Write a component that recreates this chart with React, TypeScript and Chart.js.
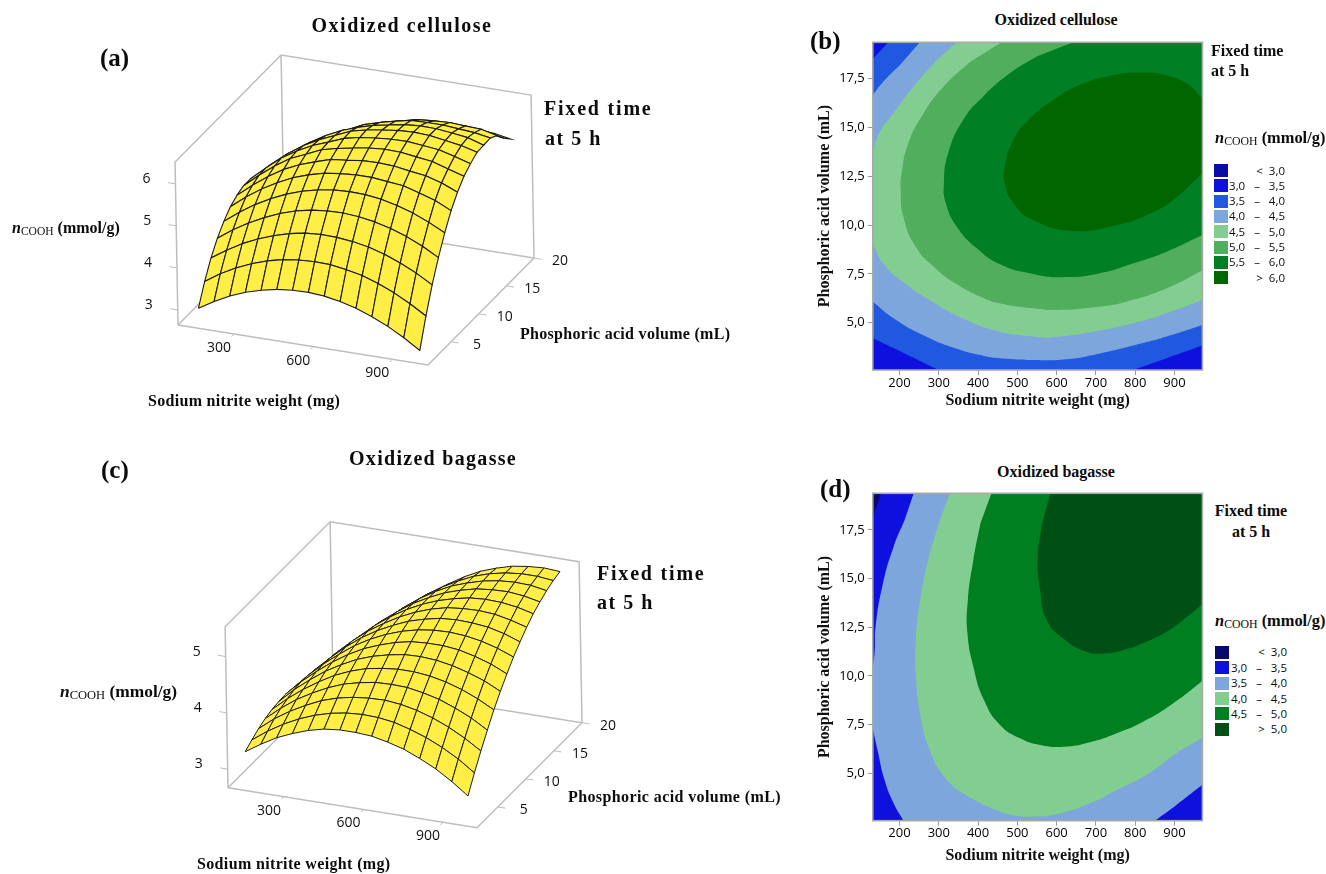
import { useEffect, useRef } from "react";
import { Chart, registerables } from "chart.js";

Chart.register(...registerables);

// ---------- surface grids ----------
const xGrid = [130, 190, 250, 310, 370, 430, 490, 550, 610, 670, 730, 790, 850, 910, 970];
const yGrid = [2.5, 3.7, 4.9, 6.1, 7.3, 8.5, 9.7, 10.9, 12.1, 13.3, 14.5, 15.7, 16.9, 18.1, 19.3];

const celluloseZ = [
  [2.86, 3.08, 3.27, 3.42, 3.53, 3.61, 3.65, 3.66, 3.63, 3.56, 3.46, 3.32, 3.15, 2.94, 2.7],
  [3.34, 3.58, 3.78, 3.94, 4.07, 4.16, 4.21, 4.23, 4.22, 4.16, 4.08, 3.95, 3.79, 3.59, 3.36],
  [3.74, 3.98, 4.2, 4.37, 4.51, 4.62, 4.69, 4.72, 4.71, 4.67, 4.6, 4.49, 4.34, 4.16, 3.94],
  [4.05, 4.31, 4.53, 4.72, 4.88, 5.0, 5.08, 5.12, 5.13, 5.1, 5.04, 4.94, 4.81, 4.64, 4.43],
  [4.29, 4.57, 4.81, 5.01, 5.18, 5.31, 5.4, 5.46, 5.48, 5.47, 5.42, 5.33, 5.21, 5.05, 4.86],
  [4.48, 4.77, 5.02, 5.23, 5.41, 5.54, 5.64, 5.69, 5.72, 5.72, 5.68, 5.64, 5.53, 5.41, 5.23],
  [4.59, 4.89, 5.16, 5.39, 5.56, 5.69, 5.81, 5.85, 5.9, 5.91, 5.89, 5.83, 5.78, 5.67, 5.51],
  [4.66, 4.97, 5.25, 5.49, 5.65, 5.82, 5.91, 5.98, 6.04, 6.07, 6.06, 6.01, 5.96, 5.84, 5.73],
  [4.66, 4.98, 5.28, 5.51, 5.7, 5.84, 5.99, 6.07, 6.12, 6.15, 6.16, 6.12, 6.08, 5.98, 5.87],
  [4.59, 4.93, 5.23, 5.48, 5.68, 5.84, 6.0, 6.09, 6.15, 6.2, 6.22, 6.2, 6.14, 6.08, 5.98],
  [4.44, 4.8, 5.11, 5.4, 5.62, 5.8, 5.93, 6.04, 6.11, 6.18, 6.21, 6.2, 6.16, 6.11, 5.99],
  [4.23, 4.6, 4.93, 5.23, 5.48, 5.66, 5.84, 5.95, 6.04, 6.12, 6.13, 6.13, 6.1, 6.07, 6.0],
  [3.96, 4.34, 4.68, 4.99, 5.26, 5.49, 5.67, 5.81, 5.89, 5.98, 6.01, 6.03, 6.01, 5.99, 5.9],
  [3.61, 4.0, 4.36, 4.68, 4.96, 5.21, 5.42, 5.58, 5.69, 5.76, 5.79, 5.82, 5.78, 5.74, 5.68],
  [3.19, 3.6, 3.97, 4.3, 4.6, 4.86, 5.08, 5.27, 5.43, 5.52, 5.58, 5.6, 5.6, 5.57, 5.5],
];

const bagasseZ = [
  [3.22, 3.4, 3.56, 3.68, 3.78, 3.85, 3.88, 3.88, 3.86, 3.8, 3.72, 3.6, 3.46, 3.28, 3.07],
  [3.31, 3.51, 3.68, 3.82, 3.93, 4.01, 4.06, 4.08, 4.07, 4.03, 3.95, 3.85, 3.72, 3.56, 3.36],
  [3.39, 3.61, 3.79, 3.94, 4.07, 4.16, 4.22, 4.25, 4.26, 4.23, 4.17, 4.08, 3.96, 3.81, 3.63],
  [3.45, 3.68, 3.88, 4.04, 4.18, 4.29, 4.36, 4.41, 4.42, 4.41, 4.36, 4.29, 4.18, 4.05, 3.88],
  [3.49, 3.73, 3.94, 4.12, 4.28, 4.4, 4.49, 4.54, 4.57, 4.57, 4.54, 4.48, 4.39, 4.27, 4.12],
  [3.51, 3.77, 3.99, 4.19, 4.35, 4.49, 4.59, 4.66, 4.71, 4.72, 4.7, 4.65, 4.57, 4.47, 4.33],
  [3.52, 3.79, 4.02, 4.23, 4.41, 4.56, 4.67, 4.76, 4.82, 4.84, 4.84, 4.81, 4.74, 4.65, 4.52],
  [3.5, 3.78, 4.03, 4.25, 4.45, 4.61, 4.74, 4.84, 4.91, 4.95, 4.96, 4.94, 4.89, 4.81, 4.7],
  [3.46, 3.76, 4.02, 4.26, 4.47, 4.64, 4.78, 4.9, 4.98, 5.04, 5.06, 5.05, 5.02, 4.95, 4.85],
  [3.41, 3.72, 4.0, 4.25, 4.47, 4.65, 4.81, 4.94, 5.04, 5.11, 5.14, 5.15, 5.13, 5.07, 4.99],
  [3.33, 3.66, 3.95, 4.21, 4.45, 4.65, 4.82, 4.96, 5.07, 5.15, 5.21, 5.23, 5.22, 5.18, 5.11],
  [3.24, 3.58, 3.88, 4.16, 4.41, 4.62, 4.81, 4.96, 5.09, 5.18, 5.25, 5.28, 5.29, 5.26, 5.2],
  [3.13, 3.48, 3.8, 4.09, 4.35, 4.58, 4.78, 4.95, 5.09, 5.19, 5.27, 5.32, 5.34, 5.33, 5.28],
  [3.0, 3.36, 3.69, 4.0, 4.27, 4.52, 4.73, 4.91, 5.06, 5.19, 5.28, 5.34, 5.37, 5.37, 5.34],
  [2.84, 3.22, 3.57, 3.89, 4.18, 4.43, 4.66, 4.85, 5.02, 5.16, 5.26, 5.34, 5.38, 5.4, 5.38],
];

// ---------- tick labels ----------
const surfaceXTicks = [300, 600, 900];
const surfaceYTicks = [5, 10, 15, 20];
const celluloseZTicks = [3, 4, 5, 6];
const bagasseZTicks = [3, 4, 5];
const contourXTicks = [200, 300, 400, 500, 600, 700, 800, 900];
const contourYTicks = [5, 7.5, 10, 12.5, 15, 17.5];

// ---------- contour level boundaries: weight (mg), volume (mL) ----------
const cellulose35: number[][] = [[171.6,19.36],[971,19.36],[971,3.83],[880,3.18],[795,2.58],[300,2.58],[213,3.43],[132,4.2],[132,18.5]];
const cellulose40: number[][] = [[252,19.36],[971,19.36],[971,4.88],[880,4.29],[795,3.83],[710,3.43],[625,3.13],[540,3.09],[456,3.18],[415,3.3],[342,3.69],[259,4.37],[185,5.23],[132,6.08],[132,16.66],[159,17.35],[201,18.2]];
const cellulose45: number[][] = [[345.5,19.36],[971,19.36],[971,6.16],[880,5.48],[795,4.97],[693,4.54],[583,4.25],[540,4.29],[456,4.54],[360,5.23],[277,6.16],[213,7.02],[158,8.04],[132,9.07],[132,13.76],[150,14.79],[184,15.72],[235,17.09],[295,18.46]];
const cellulose50: number[][] = [[460,19.36],[971,19.36],[971,7.67],[880,6.76],[778,6.08],[693,5.79],[600,5.65],[540,5.74],[456,5.99],[415,6.25],[342,7.02],[287,7.87],[241,8.9],[210,10.43],[203,11.8],[205.5,12.65],[222.5,14.19],[261,15.72],[312,17.09],[380,18.37]];
const cellulose55: number[][] = [[642,19.36],[971,19.36],[971,9.49],[880,8.64],[795,8.04],[710,7.53],[617,7.33],[540,7.5],[456,7.99],[397,8.81],[346,9.92],[318,11.12],[313,12.14],[324,13.68],[362,15.38],[413,16.58],[481,17.77],[549,18.63]];
const cellulose60: number[][] = [[971,16.49],[931,17.26],[875,17.69],[820,17.81],[747,17.69],[660,17.18],[592,16.41],[532,15.47],[490,14.36],[468,12.99],[468,12.14],[490,11.12],[540,10.26],[642,9.7],[753,10.0],[838,10.6],[897,11.29],[971,12.65]];

const bagasseBelow3: number[][] = [[132,19.38],[153,19.38],[132,18.1]];
const bagasse35: number[][] = [[236,19.38],[971,19.38],[971,4.41],[905,3.38],[850,2.57],[210,2.57],[185,3.46],[162,4.66],[144,6.2],[132,7.31],[132,10.39],[137,11.33],[139,12.53],[158,14.76],[185,16.64],[213,18.01]];
const bagasse40: number[][] = [[328,19.38],[971,19.38],[971,6.84],[905,6.03],[829,4.92],[753,4.15],[685,3.46],[600,2.9],[541,2.78],[498,2.83],[456,3.04],[369,3.89],[314,4.83],[277,6.2],[254,7.91],[242,9.96],[242,12.02],[254,14.07],[273,15.96],[300,17.84]];
const bagasse45: number[][] = [[434,19.38],[971,19.38],[971,9.74],[897,8.6],[821,7.66],[753,7.06],[685,6.6],[617,6.37],[558,6.46],[507,6.8],[456,7.49],[415,8.77],[388,10.48],[373,12.19],[374,13.9],[388,15.96],[406,17.84]];
const bagasse50: number[][] = [[584,19.38],[971,19.38],[971,13.68],[922,12.88],[880,12.28],[829,11.76],[770,11.34],[719,11.16],[676,11.25],[617,11.93],[575,12.88],[558,14.42],[552,16.13],[563,17.84]];

// ---------- legends ----------
const celluloseLegend = ["<  3,0", "3,0   –   3,5", "3,5   –   4,0", "4,0   –   4,5", "4,5   –   5,0", "5,0   –   5,5", "5,5   –   6,0", ">  6,0"];
const celluloseColors = ["#0A0CA6", "#0E10DE", "#2058E0", "#7CA6DC", "#82CE90", "#50AE5C", "#007F24", "#006600"];
const bagasseLegend = ["<  3,0", "3,0   –   3,5", "3,5   –   4,0", "4,0   –   4,5", "4,5   –   5,0", ">  5,0"];
const bagasseColors = ["#0A0A6E", "#0E10DE", "#7CA6DC", "#82CE90", "#007F20", "#004F14"];

const SERIF = '"Liberation Serif", serif';
const SANS = '"Open Sans", sans-serif';

type View = {
  left: number; top: number; width: number; height: number;
  origin: number[]; ex: number[]; ey: number[];
  xLo: number; xHi: number; yLo: number; yHi: number;
  zLo: number; zHi: number; zPx: number; skew: number;
};

const viewA: View = {
  left: 0, top: 0, width: 800, height: 430,
  origin: [178, 325], ex: [250, 40], ey: [106, -107],
  xLo: 87, xHi: 1036, yLo: 0.83, yHi: 20,
  zLo: 2.64, zHi: 6.52, zPx: 42, skew: -0.018,
};
const viewC: View = {
  left: 0, top: 440, width: 800, height: 434,
  origin: [228, 787.7], ex: [249, 40], ey: [105, -105],
  xLo: 88.5, xHi: 1028, yLo: 1.3, yHi: 20,
  zLo: 2.67, zHi: 5.53, zPx: 56.3, skew: -0.018,
};

function project(v: View, x: number, y: number, z: number) {
  const a = (x - v.xLo) / (v.xHi - v.xLo);
  const b = (y - v.yLo) / (v.yHi - v.yLo);
  const h = (z - v.zLo) * v.zPx;
  return {
    x: v.origin[0] + a * v.ex[0] + b * v.ey[0] + h * v.skew,
    y: v.origin[1] + a * v.ex[1] + b * v.ey[1] - h,
  };
}

function lineSet(points: { x: number; y: number }[], color: string, width: number) {
  return { data: points, showLine: true, borderColor: color, borderWidth: width, pointRadius: 0, fill: false, tension: 0 };
}

function surfaceConfig(v: View, zRows: number[][], zTicks: number[], meshWidth: number) {
  const G = "#BDBDBD";
  const P = (x: number, y: number, z: number) => project(v, x, y, z);
  const sets: any[] = [
    lineSet([P(v.xLo, v.yLo, v.zLo), P(v.xHi, v.yLo, v.zLo), P(v.xHi, v.yHi, v.zLo), P(v.xLo, v.yHi, v.zLo), P(v.xLo, v.yLo, v.zLo)], G, 1.5),
    lineSet([P(v.xLo, v.yLo, v.zLo), P(v.xLo, v.yLo, v.zHi), P(v.xLo, v.yHi, v.zHi), P(v.xHi, v.yHi, v.zHi), P(v.xHi, v.yHi, v.zLo)], G, 1.5),
    lineSet([P(v.xLo, v.yHi, v.zLo), P(v.xLo, v.yHi, v.zHi)], G, 1.5),
  ];
  const xSpan = v.xHi - v.xLo;
  const ySpan = v.yHi - v.yLo;
  zTicks.forEach((z) => sets.push(lineSet([P(v.xLo, v.yLo, z), P(v.xLo - 0.03 * xSpan, v.yLo, z)], G, 1)));
  surfaceXTicks.forEach((x) => sets.push(lineSet([P(x, v.yLo, v.zLo), P(x, v.yLo - 0.025 * ySpan, v.zLo)], G, 1)));
  surfaceYTicks.forEach((y) => sets.push(lineSet([P(v.xHi, y, v.zLo), P(v.xHi + 0.03 * xSpan, y, v.zLo)], G, 1)));
  // painter's order: far corner (low weight, high volume) first
  for (let j = yGrid.length - 2; j >= 0; j--) {
    for (let i = 0; i < xGrid.length - 1; i++) {
      sets.push({
        data: [
          P(xGrid[i], yGrid[j], zRows[j][i]),
          P(xGrid[i + 1], yGrid[j], zRows[j][i + 1]),
          P(xGrid[i + 1], yGrid[j + 1], zRows[j + 1][i + 1]),
          P(xGrid[i], yGrid[j + 1], zRows[j + 1][i]),
          P(xGrid[i], yGrid[j], zRows[j][i]),
        ],
        showLine: true,
        fill: "shape",
        backgroundColor: "#FFEE45",
        borderColor: "#1a1a1a",
        borderWidth: meshWidth,
        pointRadius: 0,
        tension: 0,
      });
    }
  }
  const tickText = {
    id: "tickText",
    afterDatasetsDraw(chart: any) {
      const { ctx, scales } = chart;
      ctx.save();
      ctx.font = `14px ${SANS}`;
      ctx.fillStyle = "#111";
      ctx.textAlign = "center";
      ctx.textBaseline = "middle";
      const put = (s: string, p: { x: number; y: number }, dx: number, dy: number) =>
        ctx.fillText(s, scales.x.getPixelForValue(p.x) + dx, scales.y.getPixelForValue(p.y) + dy);
      zTicks.forEach((z) => put(String(z), P(v.xLo, v.yLo, z), -29, -5));
      surfaceXTicks.forEach((x) => put(String(x), P(x, v.yLo, v.zLo), -15, 14));
      surfaceYTicks.forEach((y) => put(String(y), P(v.xHi, y, v.zLo), 26, 3));
      ctx.restore();
    },
  };
  return {
    type: "scatter",
    data: { datasets: sets.reverse() },
    options: {
      animation: false,
      responsive: false,
      layout: { padding: 0 },
      plugins: { legend: { display: false }, tooltip: { enabled: false }, title: { display: false } },
      scales: {
        x: { type: "linear", display: false, min: v.left, max: v.left + v.width },
        y: { type: "linear", display: false, reverse: true, min: v.top, max: v.top + v.height },
      },
    },
    plugins: [tickText],
  };
}

function contourConfig(
  levels: { pts: number[][]; color: string }[],
  bounds: { xMin: number; xMax: number; yMin: number; yMax: number },
  box: { top: number; right: number; yWidth: number; xHeight: number; titleBottom: number },
) {
  const { xMin, xMax, yMin, yMax } = bounds;
  const onEdge = (p: number[]) => p[0] === xMin || p[0] === xMax || p[1] === yMin || p[1] === yMax;
  const toPoints = (pts: number[][]) =>
    pts.flatMap((p) => (onEdge(p) ? [{ x: p[0], y: p[1] }, { x: p[0], y: p[1] }] : [{ x: p[0], y: p[1] }]));
  const sets = levels.map((l) => ({
    data: toPoints(l.pts),
    showLine: true,
    fill: "shape",
    backgroundColor: l.color,
    borderWidth: 0,
    borderColor: l.color,
    pointRadius: 0,
    tension: 0.5,
  }));
  const frame = {
    id: "frame",
    afterDatasetsDraw(chart: any) {
      const { ctx, chartArea: a } = chart;
      ctx.save();
      ctx.strokeStyle = "#A9A9A9";
      ctx.lineWidth = 1.6;
      ctx.strokeRect(a.left, a.top, a.right - a.left, a.bottom - a.top);
      ctx.restore();
    },
  };
  const tickFont = { family: SANS, size: 13 };
  const axisTitle = { family: SERIF, size: 16, weight: "bold" };
  return {
    type: "scatter",
    data: { datasets: sets.reverse() },
    options: {
      animation: false,
      responsive: false,
      layout: { padding: { left: 0, right: box.right, top: box.top, bottom: 0 } },
      plugins: { legend: { display: false }, tooltip: { enabled: false } },
      scales: {
        x: {
          type: "linear",
          min: xMin,
          max: xMax,
          afterBuildTicks: (s: any) => { s.ticks = contourXTicks.map((value) => ({ value })); },
          afterFit: (s: any) => { s.height = box.xHeight; },
          grid: { drawOnChartArea: false, drawTicks: true, tickLength: 5, color: "#9a9a9a" },
          border: { display: false },
          ticks: { font: tickFont, color: "#000", padding: 0, autoSkip: false, maxRotation: 0, callback: (v: number) => String(v) },
          title: { display: true, text: "Sodium nitrite weight (mg)", font: axisTitle, color: "#111", padding: { top: 0, bottom: box.titleBottom } },
        },
        y: {
          type: "linear",
          min: yMin,
          max: yMax,
          afterBuildTicks: (s: any) => { s.ticks = contourYTicks.map((value) => ({ value })); },
          afterFit: (s: any) => { s.width = box.yWidth; },
          grid: { drawOnChartArea: false, drawTicks: true, tickLength: 5, color: "#9a9a9a" },
          border: { display: false },
          ticks: { font: tickFont, color: "#000", padding: 3, autoSkip: false, callback: (v: number) => v.toFixed(1).replace(".", ",") },
          title: { display: true, text: "Phosphoric acid volume (mL)", font: axisTitle, color: "#111", padding: { top: 3.4, bottom: 0 } },
        },
      },
    },
    plugins: [frame],
  };
}

function rect(b: { xMin: number; xMax: number; yMin: number; yMax: number }) {
  return [[b.xMin, b.yMin], [b.xMax, b.yMin], [b.xMax, b.yMax], [b.xMin, b.yMax]];
}

const boundsB = { xMin: 132, xMax: 971, yMin: 2.58, yMax: 19.36 };
const boundsD = { xMin: 132, xMax: 971, yMin: 2.57, yMax: 19.38 };

function ChartCanvas({ make, left, top, width, height }: { make: () => any; left: number; top: number; width: number; height: number }) {
  const ref = useRef<HTMLCanvasElement | null>(null);
  useEffect(() => {
    const chart = new Chart(ref.current as HTMLCanvasElement, make());
    return () => chart.destroy();
  }, []);
  return <canvas ref={ref} width={width} height={height} style={{ position: "absolute", left, top, width, height, display: "block" }} />;
}

function Text({ x, y, size = 16, spacing = 0, bold = true, font = SERIF, align = "left", children }: any) {
  const tx = align === "center" ? "-50%" : align === "right" ? "-100%" : "0";
  return (
    <div
      style={{
        position: "absolute", left: x, top: y, transform: `translate(${tx}, -50%)`,
        fontFamily: font, fontSize: size, fontWeight: bold ? 700 : 400, letterSpacing: spacing,
        whiteSpace: "pre", color: "#0c0c0c", lineHeight: 1,
      }}
    >
      {children}
    </div>
  );
}

function NCooh({ x, y, size }: { x: number; y: number; size: number }) {
  return (
    <Text x={x} y={y} size={size}>
      <i>n</i>
      <span style={{ fontSize: "0.72em", fontWeight: 400, verticalAlign: "-0.15em" }}>COOH</span>
      {" (mmol/g)"}
    </Text>
  );
}

function Legend({ labels, colors, x, y0, step, textRight }: { labels: string[]; colors: string[]; x: number; y0: number; step: number; textRight: number }) {
  return (
    <>
      {labels.map((l, i) => (
        <div key={l}>
          <div style={{ position: "absolute", left: x, top: y0 + i * step - 6.5, width: 14, height: 13, background: colors[i] }} />
          <Text x={textRight} y={y0 + i * step} size={11.5} bold={false} font={SANS} align="right">{l}</Text>
        </div>
      ))}
    </>
  );
}

export default function App() {
  return (
    <div style={{ position: "absolute", left: 0, top: 0, width: 1326, height: 874, overflow: "hidden", background: "#fff" }}>
      <ChartCanvas left={viewA.left} top={viewA.top} width={viewA.width} height={viewA.height} make={() => surfaceConfig(viewA, celluloseZ, celluloseZTicks, 1.1)} />
      <ChartCanvas left={viewC.left} top={viewC.top} width={viewC.width} height={viewC.height} make={() => surfaceConfig(viewC, bagasseZ, bagasseZTicks, 1)} />
      <ChartCanvas
        left={812} top={30} width={400} height={385}
        make={() =>
          contourConfig(
            [
              { pts: rect(boundsB), color: "#0E10DE" },
              { pts: cellulose35, color: "#2058E0" },
              { pts: cellulose40, color: "#7CA6DC" },
              { pts: cellulose45, color: "#82CE90" },
              { pts: cellulose50, color: "#50AE5C" },
              { pts: cellulose55, color: "#007F24" },
              { pts: cellulose60, color: "#006600" },
            ],
            boundsB,
            { top: 12.3, right: 9.6, yWidth: 60.8, xHeight: 45, titleBottom: 4.4 },
          )
        }
      />
      <ChartCanvas
        left={812} top={481} width={400} height={385}
        make={() =>
          contourConfig(
            [
              { pts: rect(boundsD), color: "#0E10DE" },
              { pts: bagasseBelow3, color: "#0A0A6E" },
              { pts: bagasse35, color: "#7CA6DC" },
              { pts: bagasse40, color: "#82CE90" },
              { pts: bagasse45, color: "#007F20" },
              { pts: bagasse50, color: "#004F14" },
            ],
            boundsD,
            { top: 12.3, right: 9.6, yWidth: 60.8, xHeight: 45.3, titleBottom: 0.4 },
          )
        }
      />

      <Text x={402} y={25} size={20} spacing={1.5} align="center">Oxidized cellulose</Text>
      <Text x={100} y={57} size={25}>(a)</Text>
      <Text x={544} y={108} size={20} spacing={1.8}>Fixed time</Text>
      <Text x={545} y={138} size={20} spacing={1.5}>at 5 h</Text>
      <NCooh x={12} y={229} size={16} />
      <Text x={520} y={334} size={16} spacing={0.3}>Phosphoric acid volume (mL)</Text>
      <Text x={148} y={401} size={16} spacing={0.3}>Sodium nitrite weight (mg)</Text>

      <Text x={433} y={458} size={20} spacing={1.3} align="center">Oxidized bagasse</Text>
      <Text x={101} y={469} size={25}>(c)</Text>
      <Text x={597} y={573} size={20} spacing={1.8}>Fixed time</Text>
      <Text x={597} y={602} size={20} spacing={1.5}>at 5 h</Text>
      <NCooh x={60} y={692} size={17.4} />
      <Text x={568} y={797} size={16} spacing={0.4}>Phosphoric acid volume (mL)</Text>
      <Text x={197} y={864} size={16} spacing={0.35}>Sodium nitrite weight (mg)</Text>

      <Text x={1056} y={20} size={16} align="center">Oxidized cellulose</Text>
      <Text x={810} y={40} size={25}>(b)</Text>
      <Text x={1211} y={51} size={16}>Fixed time</Text>
      <Text x={1211} y={71} size={16}>at 5 h</Text>
      <NCooh x={1215} y={139} size={16.4} />
      <Legend labels={celluloseLegend} colors={celluloseColors} x={1213.5} y0={170.5} step={15.3} textRight={1285} />

      <Text x={1056} y={472} size={16} align="center">Oxidized bagasse</Text>
      <Text x={820} y={488} size={25}>(d)</Text>
      <Text x={1251} y={511} size={16} align="center">Fixed time</Text>
      <Text x={1251} y={532} size={16} align="center">at 5 h</Text>
      <NCooh x={1215} y={622} size={16.4} />
      <Legend labels={bagasseLegend} colors={bagasseColors} x={1215} y0={652.3} step={15.4} textRight={1287} />
    </div>
  );
}
